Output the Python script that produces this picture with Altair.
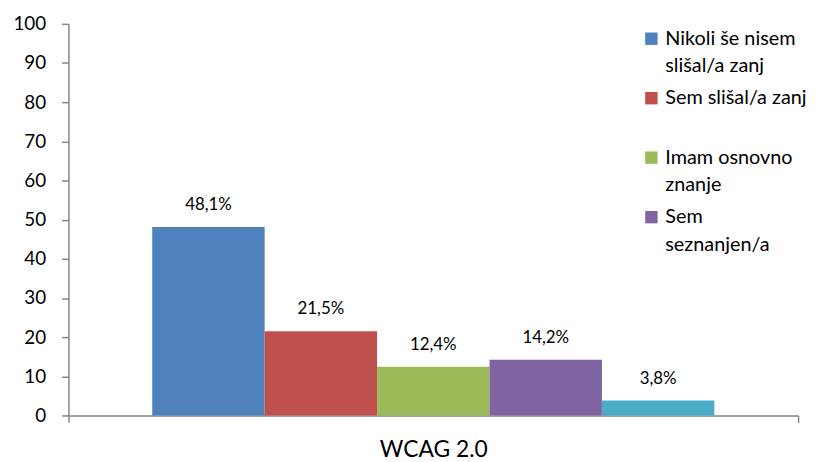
import altair as alt
import pandas as pd

category = "WCAG 2.0"
series = [
    "Nikoli še nisem slišal/a zanj",
    "Sem slišal/a zanj",
    "Imam osnovno znanje",
    "Sem seznanjen/a",
    "Dobro poznam",
]
values = [48.1, 21.5, 12.4, 14.2, 3.8]
colors = ["#4F81BD", "#C0504D", "#9BBB59", "#8064A2", "#4BACC6"]
# legend as drawn in the reference (the fifth entry is cut off there)
legend_series = series[:4]
legend_lines = [
    ["Nikoli še nisem", "slišal/a zanj"],
    ["Sem slišal/a zanj", ""],
    ["Imam osnovno", "znanje"],
    ["Sem", "seznanjen/a"],
]
y_ticks = list(range(0, 101, 10))

df = pd.DataFrame({"cat": [category] * len(series), "series": series, "value": values})

label_expr = ""
for name, lines in zip(legend_series, legend_lines):
    arr = "[" + ", ".join("'" + l + "'" for l in lines) + "]"
    label_expr += f"datum.label == '{name}' ? {arr} : "
label_expr += "datum.label"

FONT = "Lato"
GRAY = "#868686"

base = alt.Chart(df).encode(
    x=alt.X(
        "cat:N",
        scale=alt.Scale(paddingInner=0, paddingOuter=0),
        axis=alt.Axis(
            title=None,
            labelAngle=0,
            labelFontSize=23,
            labelColor="#000000",
            labelPadding=16,
            labelBaseline="top",
            tickBand="extent",
            tickSize=7,
            tickColor=GRAY,
            domainColor=GRAY,
            domainWidth=1.5,
            tickWidth=1.5,
        ),
    ),
    xOffset=alt.XOffset(
        "series:N", sort=series, scale=alt.Scale(paddingInner=0, paddingOuter=0.745)
    ),
    y=alt.Y(
        "value:Q",
        scale=alt.Scale(domain=[0, 100], nice=False),
        axis=alt.Axis(
            title=None,
            values=y_ticks,
            grid=False,
            labelFontSize=19,
            labelColor="#000000",
            labelPadding=16,
            tickSize=7,
            tickColor=GRAY,
            domainColor=GRAY,
            domainWidth=1.5,
            tickWidth=1.5,
        ),
    ),
)

bars = base.mark_bar().encode(
    color=alt.Color(
        "series:N",
        sort=series,
        scale=alt.Scale(domain=series, range=colors),
        legend=alt.Legend(
            title=None,
            values=legend_series,
            orient="none",
            legendX=578,
            legendY=5,
            symbolType="square",
            symbolSize=156,
            symbolStrokeWidth=0,
            labelFontSize=20,
            labelColor="#000000",
            labelOffset=4,
            labelLimit=300,
            rowPadding=12,
            labelExpr=label_expr,
        ),
    )
)

text = base.mark_text(dy=-17, baseline="alphabetic", fontSize=17, color="#000000").encode(
    text=alt.Text("lab:N")
).transform_calculate(
    lab="replace(format(datum.value, '.1f'), '.', ',') + '%'"
)

chart = (
    alt.layer(bars, text)
    .properties(
        width=736,
        height=395,
        autosize=alt.AutoSizeParams(type="none"),
        padding={"left": 61, "top": 14, "right": 12, "bottom": 45},
    )
    .configure(font=FONT, style={"guide-label": {"lineHeight": 28}})
    .configure_view(stroke=None)
)

chart.save("out.html", embed_options={"renderer": "svg", "actions": False})
